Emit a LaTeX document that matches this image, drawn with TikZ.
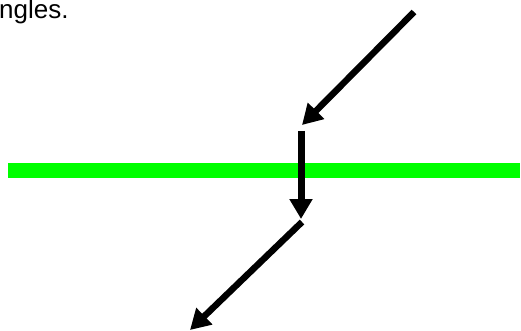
\documentclass[tikz,border=0pt]{standalone}
\usepackage{fontspec}
\setmainfont{Liberation Sans}
\usetikzlibrary{arrows.meta}
\begin{document}
\begin{tikzpicture}[x=1pt,y=-1pt,
  ray/.style={line width=6.5pt,-{Triangle[width=22pt,length=20pt]}},
  surface/.style={color={rgb,255:red,0;green,255;blue,0},line width=15pt}]
\useasboundingbox (0,0) rectangle (521,331);
\node[anchor=base west,inner sep=0pt,font=\fontsize{26}{30}\selectfont] (txt) at (-1,18.5) {ngles.};
\coordinate (gl) at (8,170);
\coordinate (gr) at (520,170);
\draw[surface] (gl) -- (gr);
\coordinate (a1) at (414,12);
\coordinate (b1) at (302,125);
\coordinate (a2) at (301,131);
\coordinate (b2) at (301,219);
\coordinate (a3) at (302,222);
\coordinate (b3) at (190,330);
\draw[ray] (a1) -- (b1);
\draw[ray,line width=7pt] (a2) -- (b2);
\draw[ray] (a3) -- (b3);
\end{tikzpicture}
\end{document}
